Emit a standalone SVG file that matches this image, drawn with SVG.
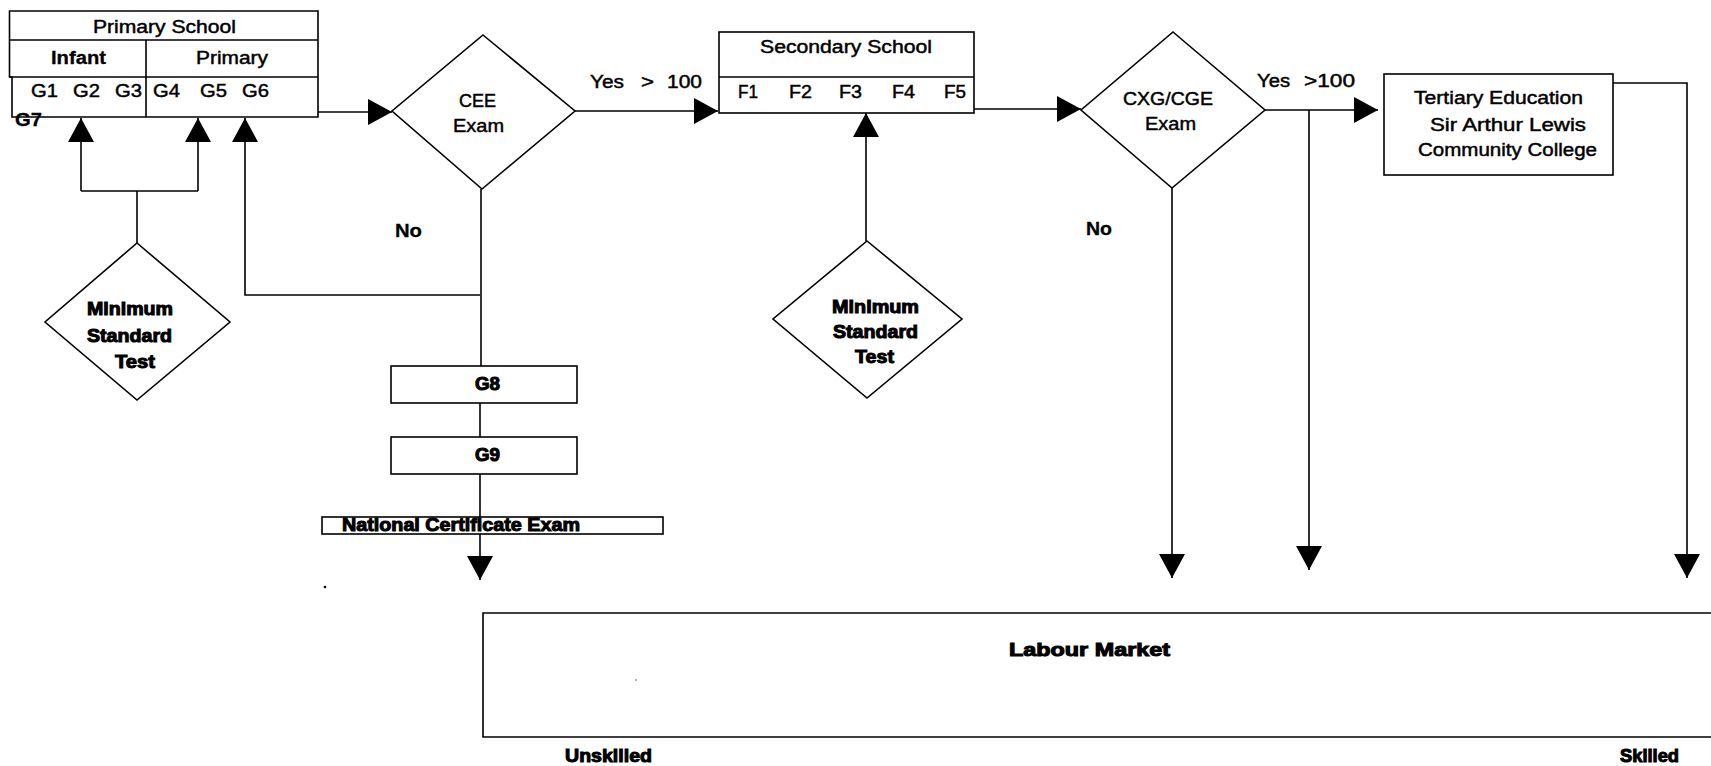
<svg xmlns="http://www.w3.org/2000/svg" width="1711" height="766" viewBox="0 0 1711 766">
  <style>
    .box { fill: none; stroke: #000; stroke-width: 1.6; }
    .dia { fill: #fff; stroke: #000; stroke-width: 1.6; }
    .wire { fill: none; stroke: #000; stroke-width: 1.6; }
    .t { font-family: "Liberation Sans", Arial, sans-serif; font-size: 18px; fill: #000; stroke: #000; stroke-width: 0.45; }
    .b { font-weight: bold; stroke-width: 0.3; }
    .h { font-weight: bold; stroke-width: 1; }
  </style>
  <defs>
    <marker id="arr" markerUnits="userSpaceOnUse" markerWidth="25" markerHeight="26" refX="24" refY="13" orient="auto">
      <path d="M0,0 L24,13 L0,26 Z" fill="#000"/>
    </marker>
  </defs>
  <rect width="1711" height="766" fill="#fff"/>

  <!-- connectors -->
  <g id="connectors" class="wire">
    <!-- primary school to CEE exam -->
    <path d="M318,112 H392" marker-end="url(#arr)"/>
    <!-- minimum standard test feeding infant/primary grades -->
    <path d="M137,243 V191"/>
    <path d="M81,191 H198"/>
    <path d="M81,191 V118" marker-end="url(#arr)"/>
    <path d="M198,191 V118" marker-end="url(#arr)"/>
    <!-- CEE failure path back to primary -->
    <path d="M480,295 H245 V118" marker-end="url(#arr)"/>
    <!-- CEE down through G8, G9, national certificate -->
    <path d="M481,189 V366"/>
    <path d="M480,403 V437"/>
    <path d="M480,474 V517"/>
    <path d="M480,534 V580" marker-end="url(#arr)"/>
    <!-- CEE pass to secondary -->
    <path d="M575,111 H718" marker-end="url(#arr)"/>
    <!-- minimum standard test into secondary -->
    <path d="M866,241 V113" marker-end="url(#arr)"/>
    <!-- secondary to CXG/CGE -->
    <path d="M974,109 H1081" marker-end="url(#arr)"/>
    <!-- CXG/CGE pass to tertiary -->
    <path d="M1265,110 H1378" marker-end="url(#arr)"/>
    <path d="M1309,110 V570" marker-end="url(#arr)"/>
    <!-- CXG/CGE fail to labour market -->
    <path d="M1172,188 V578" marker-end="url(#arr)"/>
    <!-- tertiary to labour market -->
    <path d="M1613,83 H1687 V578" marker-end="url(#arr)"/>
  </g>

  <!-- Primary School block -->
  <g id="primary-school">
    <path class="box" d="M9.5,11 H318 V117 H12 V77 H9.5 Z"/>
    <path class="box" d="M9.5,40 H318 M9.5,77 H318 M146,40 V117"/>
    <text class="t" x="93" y="33" textLength="143" lengthAdjust="spacingAndGlyphs">Primary School</text>
    <text class="t b" x="51" y="64" textLength="55" lengthAdjust="spacingAndGlyphs">Infant</text>
    <text class="t" x="196" y="64" textLength="72" lengthAdjust="spacingAndGlyphs">Primary</text>
    <text class="t" x="31" y="97" textLength="27" lengthAdjust="spacingAndGlyphs">G1</text>
    <text class="t" x="73" y="97" textLength="27" lengthAdjust="spacingAndGlyphs">G2</text>
    <text class="t" x="115" y="97" textLength="27" lengthAdjust="spacingAndGlyphs">G3</text>
    <text class="t" x="153" y="97" textLength="27" lengthAdjust="spacingAndGlyphs">G4</text>
    <text class="t" x="200" y="97" textLength="27" lengthAdjust="spacingAndGlyphs">G5</text>
    <text class="t" x="242" y="97" textLength="27" lengthAdjust="spacingAndGlyphs">G6</text>
    <text class="t b" x="15" y="126" textLength="27" lengthAdjust="spacingAndGlyphs">G7</text>
  </g>

  <!-- Minimum Standard Test (primary) -->
  <g id="mst-primary">
    <polygon class="dia" points="137,243 230,322 137,400 45,322"/>
    <text class="t h" x="87" y="315" textLength="86" lengthAdjust="spacingAndGlyphs">Minimum</text>
    <text class="t h" x="87" y="342" textLength="85" lengthAdjust="spacingAndGlyphs">Standard</text>
    <text class="t h" x="115" y="368" textLength="40" lengthAdjust="spacingAndGlyphs">Test</text>
  </g>

  <!-- CEE Exam -->
  <g id="cee-exam">
    <polygon class="dia" points="483,35 575,111 482,189 392,111"/>
    <text class="t" x="459" y="107" textLength="37" lengthAdjust="spacingAndGlyphs">CEE</text>
    <text class="t" x="453" y="132" textLength="51" lengthAdjust="spacingAndGlyphs">Exam</text>
  </g>

  <!-- labels on CEE branches -->
  <g id="cee-labels">
    <text class="t" x="590" y="88" textLength="34" lengthAdjust="spacingAndGlyphs">Yes</text>
    <text class="t" x="641" y="88" textLength="13" lengthAdjust="spacingAndGlyphs">&gt;</text>
    <text class="t" x="667" y="88" textLength="35" lengthAdjust="spacingAndGlyphs">100</text>
    <text class="t b" x="395" y="237" textLength="27" lengthAdjust="spacingAndGlyphs">No</text>
  </g>

  <!-- G8 / G9 / National Certificate -->
  <g id="g8">
    <rect class="box" x="391" y="366" width="186" height="37"/>
    <text class="t h" x="475" y="390" textLength="25" lengthAdjust="spacingAndGlyphs">G8</text>
  </g>
  <g id="g9">
    <rect class="box" x="391" y="437" width="186" height="37"/>
    <text class="t h" x="475" y="461" textLength="25" lengthAdjust="spacingAndGlyphs">G9</text>
  </g>
  <g id="national-certificate">
    <rect class="box" x="322" y="517" width="341" height="17"/>
    <text class="t h" x="342" y="531" font-size="16" textLength="238" lengthAdjust="spacingAndGlyphs">National Certificate Exam</text>
  </g>

  <!-- Secondary School -->
  <g id="secondary-school">
    <rect class="box" x="719" y="32" width="255" height="81"/>
    <path class="box" d="M719,77 H974"/>
    <text class="t" x="760" y="53" textLength="172" lengthAdjust="spacingAndGlyphs">Secondary School</text>
    <text class="t" x="738" y="98" textLength="20" lengthAdjust="spacingAndGlyphs">F1</text>
    <text class="t" x="789" y="98" textLength="23" lengthAdjust="spacingAndGlyphs">F2</text>
    <text class="t" x="839" y="98" textLength="23" lengthAdjust="spacingAndGlyphs">F3</text>
    <text class="t" x="892" y="98" textLength="23" lengthAdjust="spacingAndGlyphs">F4</text>
    <text class="t" x="944" y="98" textLength="22" lengthAdjust="spacingAndGlyphs">F5</text>
  </g>

  <!-- Minimum Standard Test (secondary) -->
  <g id="mst-secondary">
    <polygon class="dia" points="867,241 962,319 867,398 773,319"/>
    <text class="t h" x="832" y="313" textLength="87" lengthAdjust="spacingAndGlyphs">Minimum</text>
    <text class="t h" x="833" y="338" textLength="85" lengthAdjust="spacingAndGlyphs">Standard</text>
    <text class="t h" x="855" y="363" textLength="39" lengthAdjust="spacingAndGlyphs">Test</text>
  </g>

  <!-- CXG/CGE Exam -->
  <g id="cxg-exam">
    <polygon class="dia" points="1173,32 1265,110 1172,188 1081,110"/>
    <text class="t" x="1123" y="105" textLength="90" lengthAdjust="spacingAndGlyphs">CXG/CGE</text>
    <text class="t" x="1145" y="130" textLength="51" lengthAdjust="spacingAndGlyphs">Exam</text>
  </g>

  <!-- labels on CXG/CGE branches -->
  <g id="cxg-labels">
    <text class="t" x="1257" y="87" textLength="33" lengthAdjust="spacingAndGlyphs">Yes</text>
    <text class="t" x="1304" y="87" textLength="51" lengthAdjust="spacingAndGlyphs">&gt;100</text>
    <text class="t b" x="1086" y="235" textLength="26" lengthAdjust="spacingAndGlyphs">No</text>
  </g>

  <!-- Tertiary Education -->
  <g id="tertiary">
    <rect class="box" x="1384" y="74" width="229" height="101"/>
    <text class="t" x="1414" y="104" textLength="169" lengthAdjust="spacingAndGlyphs">Tertiary Education</text>
    <text class="t" x="1430" y="131" textLength="156" lengthAdjust="spacingAndGlyphs">Sir Arthur Lewis</text>
    <text class="t" x="1418" y="156" textLength="179" lengthAdjust="spacingAndGlyphs">Community College</text>
  </g>

  <!-- Labour Market (open on the right) -->
  <g id="labour-market">
    <path class="box" d="M1711,613 H483 V737 H1711"/>
    <text class="t h" x="1009" y="656" textLength="161" lengthAdjust="spacingAndGlyphs">Labour Market</text>
    <text class="t h" x="565" y="762" font-size="16" textLength="87" lengthAdjust="spacingAndGlyphs">Unskilled</text>
    <text class="t h" x="1620" y="762" font-size="16" textLength="59" lengthAdjust="spacingAndGlyphs">Skilled</text>
  </g>

  <!-- small specks -->
  <circle cx="325" cy="587" r="1.3" fill="#000"/>
  <circle cx="636" cy="680" r="0.8" fill="#555"/>
</svg>
